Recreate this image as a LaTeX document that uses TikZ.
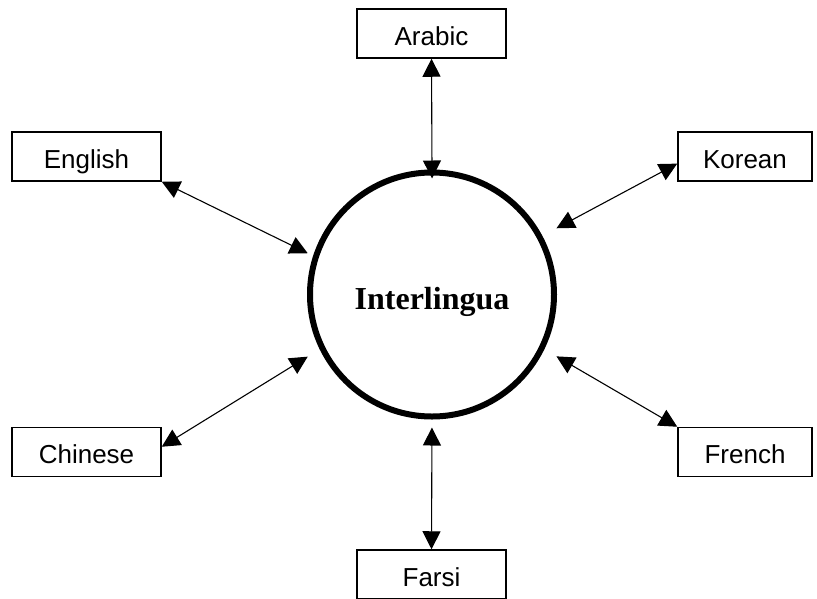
\documentclass[tikz,border=0pt]{standalone}
\usepackage{fontspec}
\setmainfont{Liberation Serif}
\newfontfamily\labelfont{Liberation Sans}
\usetikzlibrary{arrows.meta}

\begin{document}
\begin{tikzpicture}[
    x=1pt, y=-1pt,
    lang/.style={draw=black, line width=1.5pt, minimum width=149pt,
      minimum height=49pt, inner sep=0pt, text height=23pt, text depth=0pt,
      font=\labelfont\fontsize{26}{30}\selectfont},
    hub/.style={circle, draw=black, line width=6pt, minimum size=244pt,
      inner sep=0pt, text height=36pt, text depth=7pt,
      font=\bfseries\fontsize{32}{36}\selectfont},
    link/.style={line width=1.1pt,
      {Triangle[length=18pt, width=18pt]}-{Triangle[length=18pt, width=18pt]}},
  ]
    \useasboundingbox (0,0) rectangle (817,598);
    % centre
    \node[hub] (IL) at (432,294.5) {Interlingua};
    % languages
    \node[lang] (arabic)  at (431.5,33.5) {Arabic};
    \node[lang] (english) at (86.5,156.5) {English};
    \node[lang, minimum width=134pt] (korean) at (745,156.5) {Korean};
    \node[lang] (chinese) at (86.5,452) {Chinese};
    \node[lang, minimum width=134pt] (french) at (745,452) {French};
    \node[lang] (farsi)   at (431.5,574.5) {Farsi};
    % translations both ways
    \draw[link, shorten >=-9pt] (arabic.south) -- (IL.north);
    \draw[link, shorten >=8pt] (farsi.north) -- (IL.south);
    \draw[link, shorten >=6pt] (english.south east) -- (IL.162);
    \draw[link, shorten >=16pt] (korean.186) -- (IL.28);
    \draw[link, shorten >=14pt] (chinese.4) -- (IL.206);
    \draw[link, shorten >=14pt] (french.north west) -- (IL.334);
  \end{tikzpicture}
\end{document}
